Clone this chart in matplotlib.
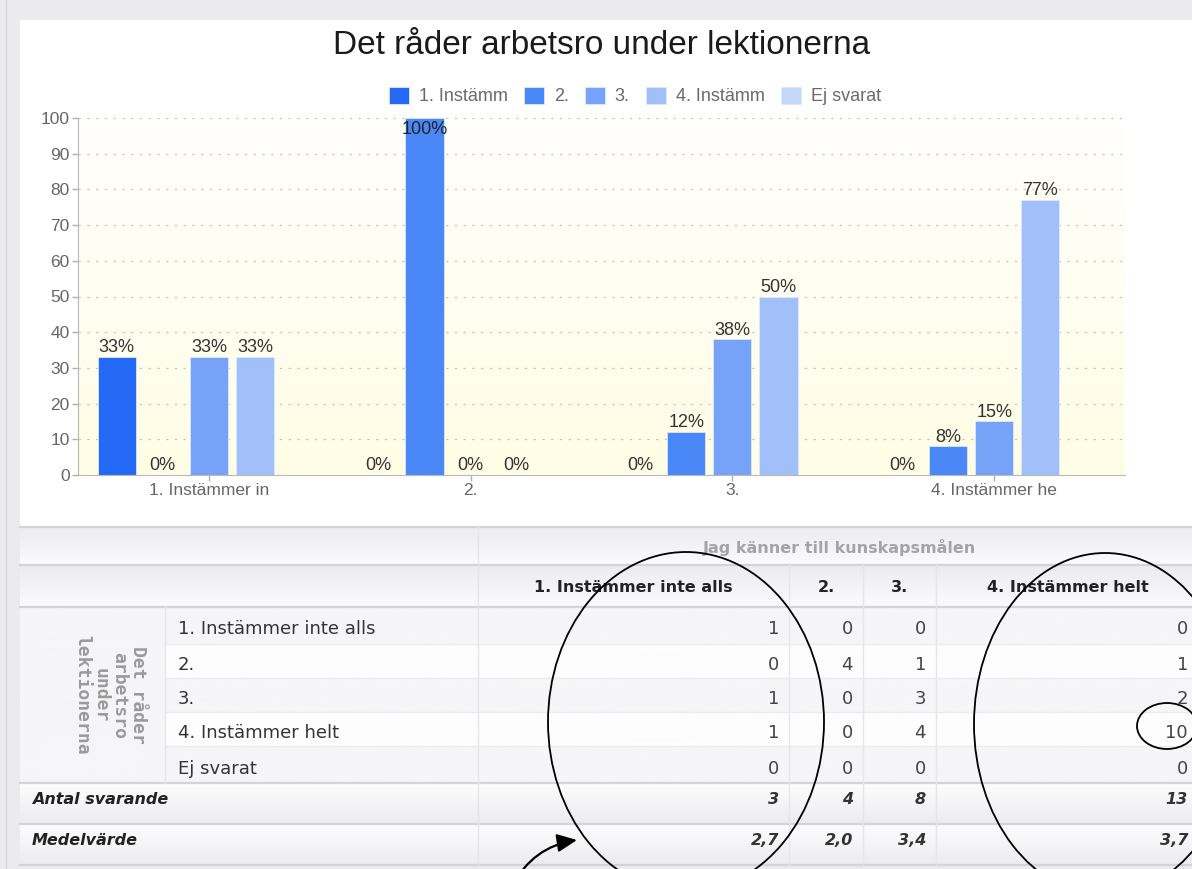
import matplotlib.pyplot as plt
import numpy as np
from matplotlib.patches import Rectangle, Ellipse, FancyArrowPatch

# -- Data ------------------------------------------
title = 'Det råder arbetsro under lektionerna'
groups = ['1. Instämmer in', '2.', '3.', '4. Instämmer he']
legend_labels = ['1. Instämm', '2.', '3.', '4. Instämm', 'Ej svarat']
# percent per series (one value per group)
pct_s1 = [33, 0, 0, 0]
pct_s2 = [0, 100, 12, 8]
pct_s3 = [33, 0, 38, 15]
pct_s4 = [33, 0, 50, 77]
pct_ej = [0, 0, 0, 0]
series = [pct_s1, pct_s2, pct_s3, pct_s4, pct_ej]
show_labels = [True, True, True, True, False]
colors = ['#246af6', '#4a87f7', '#76a3f8', '#a1c0fa', '#c4d7fb']

col_title = 'Jag känner till kunskapsmålen'
row_title = 'Det råder\narbetsro\nunder\nlektionerna'
col_labels = ['1. Instämmer inte alls', '2.', '3.', '4. Instämmer helt']
row_labels = ['1. Instämmer inte alls', '2.', '3.', '4. Instämmer helt', 'Ej svarat']
counts = [[1, 0, 0, 0],
          [0, 4, 1, 1],
          [1, 0, 3, 2],
          [1, 0, 4, 10],
          [0, 0, 0, 0]]
antal = ['3', '4', '8', '13']
medel = ['2,7', '2,0', '3,4', '3,7']

W, H = 1192, 869
fig = plt.figure(figsize=(W / 100, H / 100), dpi=100)
fig.patch.set_facecolor('#ebebee')

# -- Background / table layer (pixel coords) -------
bg = fig.add_axes([0, 0, 1, 1], zorder=0)
bg.axis('off')


def grad_rect(x0, x1, y0, y1, c_top, c_bot):
    top = np.array(plt.matplotlib.colors.to_rgb(c_top))
    bot = np.array(plt.matplotlib.colors.to_rgb(c_bot))
    t = np.linspace(0, 1, 64)[:, None]
    img = (top * (1 - t) + bot * t)[:, None, :]
    bg.imshow(img, extent=(x0, x1, y1, y0), aspect='auto', zorder=1)


bg.plot([6, 6], [0, H], color='#d6d6da', lw=1, zorder=1)
bg.add_patch(Rectangle((20, 20), W - 20, 846, facecolor='white', edgecolor='none', zorder=1))

xc = [20, 165, 478, 789, 863, 936, 1200]
yr = [527, 565, 607, 644, 678, 712, 746, 783, 824, 865]

grad_rect(20, 1200, yr[0], yr[1], '#ececf0', '#fbfbfc')
grad_rect(20, 1200, yr[1], yr[2], '#ececf0', '#fbfbfc')
for i in range(5):
    c = '#f6f6f8' if i % 2 == 0 else '#fdfdfd'
    grad_rect(165, 1200, yr[2 + i], yr[3 + i], c, c)
grad_rect(20, 165, yr[2], yr[7], '#f6f6f8', '#f6f6f8')
grad_rect(20, 1200, yr[7], yr[8], '#fdfdfd', '#ececf0')
grad_rect(20, 1200, yr[8], yr[9], '#fdfdfd', '#ececf0')

for y in [yr[0], yr[1], yr[2], yr[7], yr[8], yr[9]]:
    bg.plot([20, 1200], [y, y], color='#d4d4d8', lw=1.6, zorder=2)
for y in yr[3:7]:
    bg.plot([165, 1200], [y, y], color='#ececef', lw=1, zorder=2)
bg.plot([478, 478], [yr[0], yr[9]], color='#e6e6ea', lw=1, zorder=2)
for x in xc[3:6]:
    bg.plot([x, x], [yr[1], yr[9]], color='#e6e6ea', lw=1, zorder=2)
bg.plot([165, 165], [yr[2], yr[7]], color='#e6e6ea', lw=1, zorder=2)

tf = 'DejaVu Sans'
bg.text((478 + 1200) / 2, (yr[0] + yr[1]) / 2 + 1, col_title, ha='center', va='center',
        fontsize=11.5, fontweight='bold', color='#a4a4a8', family=tf, zorder=3)
for j, lab in enumerate(col_labels):
    bg.text((xc[2 + j] + xc[3 + j]) / 2, (yr[1] + yr[2]) / 2 + 1, lab, ha='center', va='center',
            fontsize=11.5, fontweight='bold', color='#222222', family=tf, zorder=3)
bg.text(110, (yr[2] + yr[7]) / 2, row_title, rotation=-90, ha='center', va='center',
        multialignment='center', fontsize=13, fontweight='bold', color='#9a9a9a',
        family='DejaVu Sans Mono', linespacing=1.05, zorder=3)
num_x = [779, 853, 926, 1188]
for i, lab in enumerate(row_labels):
    yc = (yr[2 + i] + yr[3 + i]) / 2 + 4
    bg.text(178, yc, lab, ha='left', va='center', fontsize=13, color='#333333', family=tf, zorder=3)
    for j in range(4):
        bg.text(num_x[j], yc, str(counts[i][j]), ha='right', va='center', fontsize=13,
                color='#444444', family=tf, zorder=3)
for k, (lab, vals) in enumerate([('Antal svarande', antal), ('Medelvärde', medel)]):
    yc = (yr[7 + k] + yr[8 + k]) / 2 - 4
    bg.text(32, yc, lab, ha='left', va='center', fontsize=11.5, fontweight='bold',
            style='italic', color='#222222', family=tf, zorder=3)
    for j in range(4):
        bg.text(num_x[j], yc, vals[j], ha='right', va='center', fontsize=11.5, fontweight='bold',
                style='italic', color='#333333', family=tf, zorder=3)

bg.set_xlim(0, W)
bg.set_ylim(H, 0)

# -- Chart -----------------------------------------
cf = 'Liberation Sans'
fig.text(602 / W, 1 - 46 / H, title, ha='center', va='center', fontsize=24,
         color='#1a1a1a', family=cf)

ax = fig.add_axes([78 / W, 1 - 475 / H, 1047 / W, 357 / H], zorder=1)
ax.set_xlim(-0.5, 3.5)
ax.set_ylim(0, 100)
t = np.linspace(0, 1, 64)[:, None]
img = (np.array([1.0, 1.0, 0.99]) * (1 - t) + np.array([1.0, 0.993, 0.90]) * t)[:, None, :]
ax.imshow(img, extent=(-0.5, 3.5, 0, 100), aspect='auto', zorder=0)

for y in range(10, 101, 10):
    ax.axhline(y, color='#c8c8c8', lw=0.9, ls=(0, (2, 5)), zorder=1)

x = np.arange(len(groups))
step, bw = 0.176, 0.146
handles = []
for s, vals in enumerate(series):
    pos = x + (s - 2) * step
    b = ax.bar(pos, vals, bw, color=colors[s], edgecolor='#dce8fd', lw=0.6, zorder=2)
    handles.append(b)
    if not show_labels[s]:
        continue
    for px, v in zip(pos, vals):
        if v >= 95:
            ax.text(px, v - 0.8, f'{v}%', ha='center', va='top', fontsize=13,
                    color='#222222', family=cf, zorder=3)
        else:
            ax.annotate(f'{v}%', (px, v), xytext=(0, 0.5), textcoords='offset points',
                        ha='center', va='bottom', fontsize=13, color='#333333',
                        family=cf, zorder=3)

ax.set_xticks(x)
ax.set_xticklabels(groups, family=cf, fontsize=12.5, color='#666666')
ax.set_yticks(range(0, 101, 10))
ax.set_yticklabels([str(v) for v in range(0, 101, 10)], family=cf, fontsize=12.5, color='#666666')
ax.tick_params(axis='both', colors='#b0b0b0', length=4, width=1, labelcolor='#666666', pad=2)
for side in ['top', 'right']:
    ax.spines[side].set_visible(False)
for side in ['left', 'bottom']:
    ax.spines[side].set_color('#b8b8b8')

fig.legend([h[0] for h in handles], legend_labels, loc='center',
           bbox_to_anchor=(635 / W, 1 - 96 / H), ncol=5, frameon=False,
           prop={'family': cf, 'size': 13}, labelcolor='#6a6a6a',
           handlelength=1.1, handleheight=1.1, handletextpad=0.55, columnspacing=0.9)

# -- Hand-drawn marks on top -----------------------
ov = fig.add_axes([0, 0, 1, 1], zorder=5)
ov.patch.set_alpha(0)
ov.axis('off')
ov.add_patch(Ellipse((686, 722), 276, 340, fill=False, ec='black', lw=1.3))
ov.add_patch(Ellipse((1105, 724), 262, 342, fill=False, ec='black', lw=1.3))
ov.add_patch(Ellipse((1167, 726), 60, 46, fill=False, ec='black', lw=1.3))
ov.add_patch(FancyArrowPatch((512, 886), (577, 840), connectionstyle='arc3,rad=-0.25',
                             arrowstyle='-|>,head_length=12,head_width=5.5', color='black',
                             lw=1.6, mutation_scale=1, shrinkA=0, shrinkB=0))
ov.set_xlim(0, W)
ov.set_ylim(H, 0)

fig.savefig('out.png', dpi=100)
